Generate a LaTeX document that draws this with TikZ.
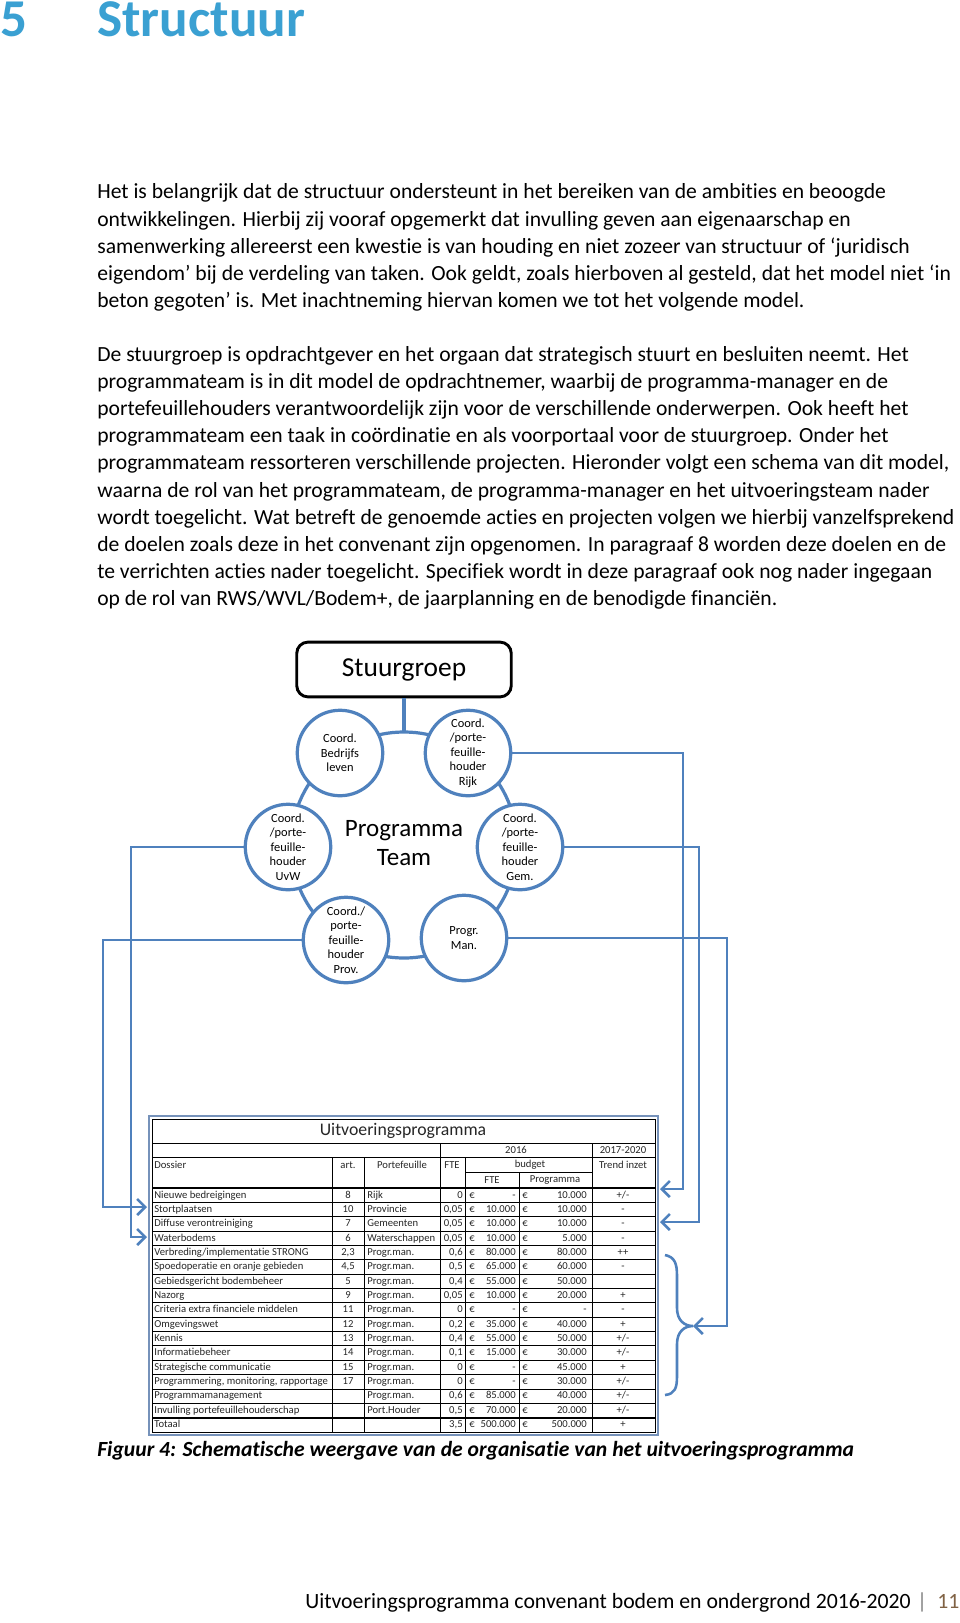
\documentclass[tikz,border=0pt]{standalone}
\usepackage{fontspec}
\setmainfont{Carlito}[Ligatures=NoCommon]
\usetikzlibrary{arrows.meta}

\definecolor{kopblauw}{RGB}{58,160,210}
\definecolor{lijnblauw}{RGB}{79,129,189}
\definecolor{kaderblauw}{RGB}{118,146,186}
\definecolor{voetbruin}{RGB}{128,98,68}

\newcommand{\pmin}{+/-}

\tikzset{
  circ/.style={circle,draw=lijnblauw,line width=2pt,fill=white,minimum size=53pt,
    inner sep=0pt,align=center,font=\fontsize{7.7}{9}\selectfont},
  conn/.style={draw=lijnblauw,line width=1.6pt},
  pijl/.style={conn,-{Straight Barb[length=5pt,width=10pt]}},
  regel/.style={anchor=base west,inner sep=0pt,font=\fontsize{13.4}{16}\selectfont},
  cel/.style={inner sep=0pt,font=\fontsize{6.6}{7}\selectfont,text=black!85},
  kopje/.style={anchor=base west,inner sep=0pt,text height=21.5pt,text=kopblauw,
    font=\bfseries\fontsize{33}{36}\selectfont},
}

\begin{document}
\begin{tikzpicture}[x=0.62pt,y=-0.62pt]
  \useasboundingbox (0,0) rectangle (960,1623);

  % kop
  \node[kopje] (nr) at (0,37) {5};
  \node[kopje] (kop) at (97,37) {Structuur};

  % tekst
  \foreach \t [count=\i] in {
    {Het is belangrijk dat de structuur ondersteunt in het bereiken van de ambities en beoogde},
    {ontwikkelingen. Hierbij zij vooraf opgemerkt dat invulling geven aan eigenaarschap en},
    {samenwerking allereerst een kwestie is van houding en niet zozeer van structuur of ‘juridisch},
    {eigendom’ bij de verdeling van taken. Ook geldt, zoals hierboven al gesteld, dat het model niet ‘in},
    {beton gegoten’ is. Met inachtneming hiervan komen we tot het volgende model.}}
    \node[regel] (pa\i) at (97,{199+27.1*(\i-1)}) {\t};

  \foreach \t [count=\i] in {
    {De stuurgroep is opdrachtgever en het orgaan dat strategisch stuurt en besluiten neemt. Het},
    {programmateam is in dit model de opdrachtnemer, waarbij de programma-manager en de},
    {portefeuillehouders verantwoordelijk zijn voor de verschillende onderwerpen. Ook heeft het},
    {programmateam een taak in coördinatie en als voorportaal voor de stuurgroep. Onder het},
    {programmateam ressorteren verschillende projecten. Hieronder volgt een schema van dit model,},
    {waarna de rol van het programmateam, de programma-manager en het uitvoeringsteam nader},
    {wordt toegelicht. Wat betreft de genoemde acties en projecten volgen we hierbij vanzelfsprekend},
    {de doelen zoals deze in het convenant zijn opgenomen. In paragraaf 8 worden deze doelen en de},
    {te verrichten acties nader toegelicht. Specifiek wordt in deze paragraaf ook nog nader ingegaan},
    {op de rol van RWS/WVL/Bodem+, de jaarplanning en de benodigde financiën.}}
    \node[regel] (pb\i) at (97,{361.5+27.1*(\i-1)}) {\t};

  % schema
  \draw[conn,line width=2pt] (404,845) circle[radius=113];
  \node[draw,line width=1.8pt,rounded corners=7pt,fill=white,minimum width=133pt,minimum height=34pt,
    font=\fontsize{17}{20}\selectfont] (stuur) at (404,669.5) {Stuurgroep};
  \coordinate (ringtop) at (404,732);
  \draw[conn,line width=2pt] (stuur.south) -- (ringtop);

  \node[circ] (bedr) at (340,753) {Coord.\\Bedrijfs\\leven};
  \node[circ] (rijk) at (468,753) {Coord.\\/porte-\\feuille-\\houder\\Rijk};
  \node[circ] (uvw) at (288,847) {Coord.\\/porte-\\feuille-\\houder\\UvW};
  \node[circ] (gem) at (520,847) {Coord.\\/porte-\\feuille-\\houder\\Gem.};
  \node[circ] (prov) at (346,940) {Coord./\\porte-\\feuille-\\houder\\Prov.};
  \node[circ] (man) at (464,938) {Progr.\\Man.};
  \node[align=center,font=\fontsize{15.5}{18}\selectfont] (team) at (404,843) {Programma\\Team};

  % tabel
  \draw[kaderblauw,line width=1.3pt] (149,1116) rectangle (658,1435);
  \draw[line width=0.5pt] (152,1119) rectangle (655,1432);
  \draw[line width=0.5pt] (152,1143) -- (655,1143) (152,1157) -- (655,1157) (465,1172) -- (592,1172);
  \draw[line width=1.1pt] (152,1188) -- (655,1188) (152,1417.6) -- (655,1417.6);
  \foreach \k in {1,...,15}
    \draw[line width=0.5pt] (152,{1188+14.35*\k}) -- (655,{1188+14.35*\k});
  \draw[line width=0.5pt] (332,1157) -- (332,1432) (364,1157) -- (364,1432) (440,1143) -- (440,1432)
    (465,1157) -- (465,1432) (519,1172) -- (519,1432) (592,1143) -- (592,1432);

  \node[cel,font=\fontsize{11}{12}\selectfont] (titel) at (403,1131) {Uitvoeringsprogramma};
  \node[cel] (h2016) at (516,1150) {2016};
  \node[cel] (hjaren) at (623,1150) {2017-2020};
  \node[cel,anchor=west] (hdos) at (154,1165) {Dossier};
  \node[cel] (hart) at (348,1165) {art.};
  \node[cel] (hport) at (402,1165) {Portefeuille};
  \node[cel] (hfte) at (452,1165) {FTE};
  \node[cel] (hbudget) at (530,1165) {budget};
  \node[cel] (htrend) at (623,1165) {Trend inzet};
  \node[cel] (hbfte) at (492,1180) {FTE};
  \node[cel] (hbprog) at (555,1180) {Programma};

  \foreach \dos/\art/\port/\fte/\bfte/\bprog/\trend [count=\i] in {
    Nieuwe bedreigingen/8/Rijk/0/{-\hspace{6pt}}/10.000/\pmin,
    Stortplaatsen/10/Provincie/{0,05}/10.000/10.000/-,
    Diffuse verontreiniging/7/Gemeenten/{0,05}/10.000/10.000/-,
    Waterbodems/6/Waterschappen/{0,05}/10.000/5.000/-,
    Verbreding\slash implementatie STRONG/{2,3}/Progr.man./{0,6}/80.000/80.000/++,
    Spoedoperatie en oranje gebieden/{4,5}/Progr.man./{0,5}/65.000/60.000/-,
    Gebiedsgericht bodembeheer/5/Progr.man./{0,4}/55.000/50.000/{},
    Nazorg/9/Progr.man./{0,05}/10.000/20.000/+,
    Criteria extra financiele middelen/11/Progr.man./0/{-\hspace{6pt}}/{-\hspace{6pt}}/-,
    Omgevingswet/12/Progr.man./{0,2}/35.000/40.000/+,
    Kennis/13/Progr.man./{0,4}/55.000/50.000/\pmin,
    Informatiebeheer/14/Progr.man./{0,1}/15.000/30.000/\pmin,
    Strategische communicatie/15/Progr.man./0/{-\hspace{6pt}}/45.000/+,
    {Programmering, monitoring, rapportage}/17/Progr.man./0/{-\hspace{6pt}}/30.000/\pmin,
    Programmamanagement/{}/Progr.man./{0,6}/85.000/40.000/\pmin,
    Invulling portefeuillehouderschap/{}/Port.Houder/{0,5}/70.000/20.000/\pmin,
    Totaal/{}/{}/{3,5}/500.000/500.000/+}
  {
    \node[cel,anchor=base west] (dos\i) at (154,{1188+14.35*(\i-1)+10}) {\dos};
    \node[cel,anchor=base] (art\i) at (348,{1188+14.35*(\i-1)+10}) {\art};
    \node[cel,anchor=base west] (port\i) at (367,{1188+14.35*(\i-1)+10}) {\port};
    \node[cel,anchor=base east] (fte\i) at (463,{1188+14.35*(\i-1)+10}) {\fte};
    \node[cel,anchor=base west] (eua\i) at (469,{1188+14.35*(\i-1)+10}) {€};
    \node[cel,anchor=base east] (bfte\i) at (516,{1188+14.35*(\i-1)+10}) {\bfte};
    \node[cel,anchor=base west] (eub\i) at (522,{1188+14.35*(\i-1)+10}) {€};
    \node[cel,anchor=base east] (bprog\i) at (587,{1188+14.35*(\i-1)+10}) {\bprog};
    \node[cel,anchor=base] (trend\i) at (623,{1188+14.35*(\i-1)+10}) {\trend};
  }

  % accolade
  \coordinate (accolade) at (693,1326);
  \draw[conn] (665,1255) .. controls (675,1257) and (677,1264) .. (677,1276) -- (677,1308)
    .. controls (677,1320) and (684,1326) .. (accolade)
    .. controls (684,1326) and (677,1332) .. (677,1344) -- (677,1376)
    .. controls (677,1388) and (675,1394) .. (665,1395);

  % verbindingen
  \coordinate (tStort) at (147,1207);
  \coordinate (tWater) at (147,1237);
  \coordinate (tRijk) at (660,1189);
  \coordinate (tGem) at (660,1222);
  \draw[pijl] (uvw.west) -| (131,1237) -- (tWater);
  \draw[pijl] (prov.west) -| (103,1207) -- (tStort);
  \draw[pijl] (rijk.east) -| (683,1189) -- (tRijk);
  \draw[pijl] (gem.east) -| (699,1222) -- (tGem);
  \draw[pijl] (man.east) -| (727,1326) -- (accolade);

  % bijschrift en voet
  \node[regel,font=\bfseries\itshape\fontsize{13.4}{16}\selectfont] (bijschrift) at (97,1456)
    {Figuur 4: Schematische weergave van de organisatie van het uitvoeringsprogramma};
  \node[anchor=base west,inner sep=0pt,font=\fontsize{13.5}{16}\selectfont] (voet) at (305,1608)
    {Uitvoeringsprogramma convenant bodem en ondergrond 2016-2020};
  \node[anchor=base,inner sep=0pt,text=gray,font=\fontsize{13.5}{16}\selectfont] (streep) at (922,1608) {|};
  \node[anchor=base west,inner sep=0pt,text=voetbruin,font=\fontsize{13.5}{16}\selectfont] (pagina) at (937,1608) {11};
\end{tikzpicture}
\end{document}
